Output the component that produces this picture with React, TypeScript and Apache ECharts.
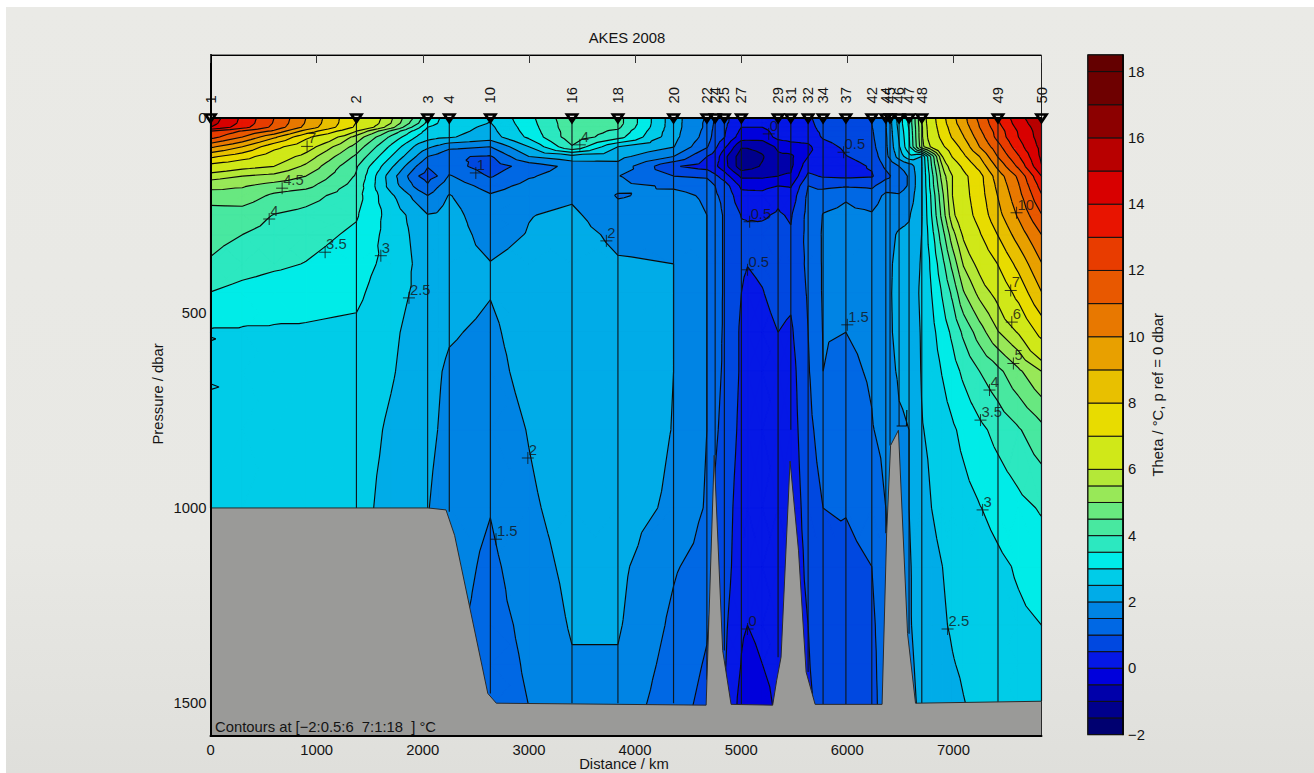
import React, { useEffect, useRef } from "react";
import * as echarts from "echarts";

const FONT = "'Liberation Sans', Arial, sans-serif";
const TEXT = "#141414";

const titleText = "AKES 2008";
const xAxisName = "Distance / km";
const yAxisName = "Pressure / dbar";
const barName = "Theta / °C, p ref = 0 dbar";
const contourNote = "Contours at [−2:0.5:6  7:1:18  ] °C";

// Contour levels and fill colours of the bands between them
const levels = [-2,-1.5,-1,-0.5,0,0.5,1,1.5,2,2.5,3,3.5,4,4.5,5,5.5,6,7,8,9,10,11,12,13,14,15,16,17,18,18.5];
const bandColors = ["#000070","#00008c","#0000aa","#0000dc","#0518e6","#0048e0","#0068e4","#0084e4","#00ace8","#00cce8","#00ece8","#2ce8c0","#48e8a0","#68e880","#98e858","#b4e838","#d0e818","#e8dc00","#e8c000","#e8a000","#e87800","#e85800","#e83c00","#e81400","#d80000","#b80000","#8c0000","#6e0000","#640000"];

// Theta, one row per pressure, one column per distance
const pressures = [0,15,25,35,50,75,100,125,150,175,200,250,300,375,450,550,650,800,1000,1150,1300,1400,1510];
const distances = [0,300,600,900,1375,1700,1960,2046,2140,2250,2637,3000,3406,3839,4363,4677,4755,4842,5002,5060,5200,5348,5468,5631,5772,5987,6231,6363,6488,6582,6700,6794,6897,6991,7095,7246,7415,7613,7830];
const thetaColumns = [
  [15.6,15.4,15.0,13.0,12.4,10.2,8.2,6.6,5.7,5.2,4.7,4.3,4.15,3.95,3.48,2.95,2.85,2.8,2.75,2.7,2.7,2.7,2.7],
  [13.8,13.7,13.4,11.9,11.0,9.0,7.4,6.2,5.5,5.05,4.8,4.25,4.0,3.75,3.3,2.95,2.88,2.8,2.75,2.7,2.7,2.7,2.7],
  [12,11.9,11.7,10.8,9.2,7.3,6.4,6.0,5.35,4.8,4.4,3.98,3.85,3.6,3.2,2.95,2.9,2.8,2.75,2.7,2.7,2.7,2.7],
  [10,9.9,9.7,8.6,7.2,6.3,5.8,5.4,5,4.65,4.2,3.85,3.7,3.48,3.15,2.95,2.9,2.8,2.75,2.7,2.7,2.7,2.7],
  [7,6.95,6.8,6,5.3,4.8,4.4,4.05,3.95,3.8,3.7,3.55,3.4,3.2,3.1,2.9,2.85,2.75,2.7,2.7,2.7,2.7,2.7],
  [5.6,5.5,5.2,4.4,3.9,3.4,3.0,2.6,2.25,2.3,2.6,2.8,2.8,2.85,2.7,2.6,2.55,2.42,2.3,2.3,2.3,2.3,2.3],
  [4.25,4.0,3.6,3.2,2.9,2.3,1.9,1.4,1.0,1.3,1.75,2.25,2.35,2.4,2.4,2.3,2.25,2.15,2.1,2.05,2.05,2.05,2.05],
  [3.6,3.3,3.0,2.8,2.7,2.1,1.5,1.02,0.85,1.05,1.5,2.02,2.2,2.25,2.3,2.2,2.15,2.1,2.02,2,2,2,2],
  [3.05,3.0,2.8,2.7,2.6,1.9,1.35,1.15,1.0,1.45,1.75,2.05,2.22,2.25,2.25,2.15,2.05,2,1.9,1.85,1.8,1.8,1.8],
  [2.8,2.75,2.7,2.65,2.55,1.65,1.05,1.2,1.55,1.8,2.03,2.2,2.25,2.25,2.2,2.05,1.92,1.85,1.75,1.7,1.6,1.55,1.5],
  [2.55,2.48,2.4,2.35,2.25,1.5,0.95,0.75,0.95,1.3,1.55,1.65,1.8,2.02,2.02,1.9,1.8,1.65,1.52,1.4,1.35,1.32,1.3],
  [3.35,3.3,3.25,3.2,3.1,2.5,2.0,1.2,1.45,1.65,1.8,1.98,2.03,2.2,2.3,2.25,2.2,2.03,1.9,1.75,1.6,1.55,1.5],
  [4.4,4.35,4.35,4.3,4.3,3.95,2.3,1.65,1.72,1.75,1.92,2.1,2.2,2.3,2.35,2.4,2.4,2.4,2.25,2.15,2.05,1.95,1.85],
  [4.2,4.2,4.1,3.9,3.7,2.5,2.15,1.85,1.52,1.6,1.47,1.65,1.88,2.05,2.2,2.35,2.4,2.4,2.25,2.12,2.05,1.95,1.8],
  [2.2,2.2,2.2,2.18,2.15,2.02,1.5,0.55,1.0,1.45,1.6,1.7,1.85,2.0,2.0,2.0,2.0,1.98,1.9,1.55,1.4,1.3,1.2],
  [1.45,1.4,1.4,1.35,1.3,1.05,0.5,0.3,0.9,1.35,1.45,1.5,1.5,1.5,1.5,1.5,1.5,1.5,1.45,1.3,1.05,0.95,0.85],
  [0.95,0.9,0.85,0.8,0.75,0.6,0.3,0.1,0.6,1.0,1.05,1.2,1.2,1.2,1.2,1.15,1.1,1.05,0.95,0.9,0.8,0.75,0.7],
  [0.6,0.6,0.58,0.55,0.52,0.1,-0.35,-0.3,0.25,0.75,0.9,0.95,0.95,0.95,0.95,0.95,0.95,0.9,0.8,0.75,0.6,0.55,0.55],
  [0.35,0.1,0,-0.1,-0.25,-0.95,-1.3,-1.3,-0.6,-0.1,0.15,0.48,0.6,0.56,0.5,0.42,0.42,0.35,0.2,0.15,0.06,-0.02,-0.2],
  [0.3,0.1,0,-0.12,-0.28,-0.95,-1.25,-1.2,-0.6,-0.12,0.15,0.47,0.56,0.51,0.4,0.3,0.25,0.22,0.15,0.1,0,-0.15,-0.3],
  [0.25,0.1,0,-0.15,-0.3,-0.85,-1.05,-0.95,-0.6,-0.15,0.15,0.45,0.62,0.58,0.48,0.35,0.25,0.25,0.2,0.2,0.12,0,-0.2],
  [0.35,0.3,0.25,0.2,0.15,-0.4,-0.6,-0.6,-0.5,0,0.4,0.55,0.65,0.7,0.65,0.5,0.3,0.25,0.2,0.2,0.2,0.15,0.1],
  [0.4,0.35,0.3,0.25,0.2,-0.2,-0.6,-0.6,-0.45,-0.05,0.2,0.45,0.55,0.65,0.6,0.42,0.3,0.25,0.2,0.2,0.2,0.2,0.2],
  [0.45,0.42,0.4,0.35,0.2,-0.1,0,0.3,0.6,1.0,1.1,1.15,1.15,1.1,1.05,1.0,0.95,0.85,0.7,0.6,0.5,0.45,0.35],
  [0.65,0.62,0.6,0.58,0.55,0.3,0.05,0.2,0.45,0.85,1.3,1.52,1.55,1.55,1.55,1.52,1.5,1.25,1.0,0.98,0.9,0.85,0.8],
  [0.85,0.85,0.82,0.8,0.75,0.6,0.48,0.3,0.4,0.95,1.45,1.6,1.65,1.65,1.6,1.5,1.4,1.25,1.02,0.9,0.85,0.82,0.8],
  [1,1,0.98,0.95,0.92,0.85,0.7,0.55,0.45,0.9,1.25,1.55,1.65,1.65,1.65,1.6,1.55,1.47,1.15,1,0.9,0.85,0.8],
  [1.45,1.45,1.45,1.45,1.42,1.4,1.35,1.1,0.85,1.3,1.6,1.75,1.85,1.9,1.92,1.9,1.85,1.65,1.5,1.4,1.3,1.3,1.3],
  [2.7,2.7,2.65,2.6,2.55,2.45,2.2,1.5,1.25,1.3,1.55,1.85,2.05,2.1,2.1,2.1,2.05,1.95,1.9,1.85,1.8,1.8,1.8],
  [3.6,3.6,3.55,3.5,3.45,3.4,2.8,1.7,1.55,1.55,1.7,1.95,2.1,2.15,2.15,2.12,2.08,2.0,2.0,1.95,1.95,1.9,1.85],
  [5.5,5.45,5.4,5.4,5.4,5.3,2.5,2.45,2.45,2.45,2.45,2.45,2.5,2.55,2.6,2.55,2.53,2.47,2.3,2.25,2.2,2.15,2.1],
  [6.6,6.55,6.5,6.45,6.4,6.1,4.15,4,3.8,3.75,3.6,3.5,3.3,3.1,3,2.85,2.77,2.6,2.5,2.4,2.33,2.27,2.2],
  [7.7,7.6,7.5,7.4,7.25,6.85,6,5.5,5.25,5.05,4.9,4.7,4.3,3.85,3.55,3.25,3.03,2.78,2.62,2.5,2.46,2.38,2.3],
  [8.7,8.6,8.4,8.3,8.1,7.5,7.05,6.4,6,6,6,5.85,5.3,4.65,4.1,3.6,3.3,2.93,2.72,2.58,2.54,2.48,2.38],
  [9.7,9.6,9.4,9.2,8.95,8.35,7.8,7.2,6.75,6.7,6.65,6.5,6.1,5.55,4.95,4.1,3.6,3.12,2.82,2.66,2.62,2.55,2.48],
  [11.3,11.1,11,10.8,10.5,10,9,8.3,7.65,7.6,7.55,7.35,6.9,6.2,5.65,4.75,4,3.38,2.98,2.77,2.72,2.65,2.6],
  [12.9,12.8,12.6,12.4,12.3,11.6,11,10.2,9.45,9.2,9,8.65,8,7,6.2,5.45,4.35,3.65,3.15,2.9,2.82,2.75,2.68],
  [14.7,14.5,14.3,14.1,14,13.6,12.9,12.2,11.2,10.9,10.65,10.15,9.45,8.3,7.3,6.05,4.9,3.95,3.35,3.05,2.92,2.82,2.78],
  [15.8,15.7,15.6,15.55,15.5,15.3,15.2,14.95,14,13.4,12.9,11.95,11,9.95,8.95,7.3,5.5,4.35,3.55,3.2,3.0,2.9,2.85],
];

// Sea floor
const floorDistance = [0,2050,2219,2300,2613,2693,4670,4746,4826,4905,5297,5335,5376,5461,5540,5612,5697,6328,6371,6408,6482,6568,6643,7830];
const floorPressure = [1000,1000,1005,1070,1475,1500,1505,865,1365,1503,1505,1441,1382,880,1108,1420,1503,1503,1065,840,801,1322,1500,1495];

// Stations: labelled number, distance, deepest pressure
const stationNames = ["1","2","3","4","10","16","18","20","22","24","25","27","29","31","32","34","37","42","44","45","46","47","48","49","50"];
const stationDistance = [0,1375,2046,2250,2637,3406,3839,4363,4677,4755,4842,5002,5348,5468,5631,5772,5987,6231,6363,6403,6488,6582,6702,7420,7830];
const stationDepth = [1000,1000,1000,1010,1475,1500,1500,1500,1440,865,1365,1503,1382,800,1420,1503,1503,1503,1065,840,790,1322,1500,1498,1495];

// Short contour kinks the gridded field cannot show
const kinkStation46: [number, number][] = [[6465,790],[6558,790],[6561,749]];
const kinkEdgeUpper: [number, number][] = [[0,562],[50,567],[0,572]];
const kinkEdgeLower: [number, number][] = [[0,682],[80,690],[0,697]];

// Contour labels: distance, pressure, text
const contourLabels: [number, number, string][] = [
  [910,74,"7"],[675,181,"4.5"],[553,260,"4"],[1080,345,"3.5"],[1605,354,"3"],[1870,462,"2.5"],
  [2500,142,"1"],[3480,70,"4"],[3730,316,"2"],[2990,872,"2"],[2690,1080,"1.5"],
  [5260,42,"0"],[5965,89,"0.5"],[5080,267,"0.5"],[5060,390,"0.5"],[6000,531,"1.5"],
  [5060,1310,"0"],[6945,1310,"2.5"],[7275,1005,"3"],[7255,775,"3.5"],[7340,698,"4"],
  [7565,630,"5"],[7550,524,"6"],[7540,443,"7"],[7595,244,"10"],
];

const xTicks = 1000;
const yTicks = 500;
const barTicks = 2;
const xMax = 7830;
const yMax = 1584;
const barMin = -2;
const barMax = 18.5;

type Pt = [number, number];
type VPt = [number, number, number];

function clipAbove(poly: VPt[], lvl: number, keepAbove: boolean): VPt[] {
  const out: VPt[] = [];
  const inside = (v: number) => (keepAbove ? v >= lvl : v < lvl);
  for (let i = 0; i < poly.length; i++) {
    const a = poly[i];
    const b = poly[(i + 1) % poly.length];
    const ia = inside(a[2]);
    const ib = inside(b[2]);
    if (ia) out.push(a);
    if (ia !== ib) {
      const t = (lvl - a[2]) / (b[2] - a[2]);
      out.push([a[0] + t * (b[0] - a[0]), a[1] + t * (b[1] - a[1]), lvl]);
    }
  }
  return out;
}

function buildTriangles(): VPt[][] {
  const tris: VPt[][] = [];
  const val = (c: number, r: number): VPt => [distances[c], pressures[r], thetaColumns[c][r] + 1e-4];
  for (let c = 0; c < distances.length - 1; c++) {
    for (let r = 0; r < pressures.length - 1; r++) {
      const a = val(c, r), b = val(c + 1, r), d = val(c, r + 1), e = val(c + 1, r + 1);
      const m: VPt = [(a[0] + b[0]) / 2, (a[1] + d[1]) / 2, (a[2] + b[2] + d[2] + e[2]) / 4];
      tris.push([a, b, m], [b, e, m], [e, d, m], [d, a, m]);
    }
  }
  return tris;
}

function buildContours() {
  const tris = buildTriangles();
  const bands: Pt[][][] = bandColors.map(() => []);
  const lines: Pt[][][] = levels.map(() => []);
  for (const t of tris) {
    for (let i = 0; i < bandColors.length; i++) {
      const lo = levels[i], hi = levels[i + 1];
      const mn = Math.min(t[0][2], t[1][2], t[2][2]);
      const mx = Math.max(t[0][2], t[1][2], t[2][2]);
      if (mx < lo || mn >= hi) continue;
      let p = clipAbove(t, lo, true);
      if (p.length) p = clipAbove(p, hi, false);
      if (p.length >= 3) bands[i].push(p.map((q) => [q[0], q[1]] as Pt));
    }
    for (let l = 0; l < levels.length - 1; l++) {
      const seg: Pt[] = [];
      const lvl = levels[l];
      for (let i = 0; i < 3; i++) {
        const a = t[i], b = t[(i + 1) % 3];
        if (a[2] >= lvl !== b[2] >= lvl) {
          const k = (lvl - a[2]) / (b[2] - a[2]);
          seg.push([a[0] + k * (b[0] - a[0]), a[1] + k * (b[1] - a[1])]);
        }
      }
      if (seg.length === 2) lines[l].push(seg);
    }
  }
  return { bands, lines };
}

function pathOf(polys: Pt[][], api: any, close: boolean): string {
  const parts: string[] = [];
  for (const poly of polys) {
    poly.forEach((q, i) => {
      const c = api.coord(q);
      parts.push((i === 0 ? "M" : "L") + c[0].toFixed(2) + " " + c[1].toFixed(2));
    });
    if (close) parts.push("Z");
  }
  return parts.join("");
}

function buildOption() {
  const { bands, lines } = buildContours();
  const textBase = { color: TEXT, fontFamily: FONT, fontSize: 14.8 };
  const noBits = { axisTick: { show: false }, axisLabel: { show: false }, splitLine: { show: false } };
  const blackLine = (w: number) => ({ show: true, onZero: false, lineStyle: { color: "#000", width: w } });
  const mod = (step: number) => (v: number) => (Math.abs(v / step - Math.round(v / step)) < 1e-6 ? String(v).replace("-", "−") : "");
  const gridBase = { show: true, backgroundColor: "transparent", outerBoundsMode: "none", containLabel: false };
  const kink = (name: string, pts: [number, number][]) => ({
    type: "line", name, xAxisIndex: 0, yAxisIndex: 0, z: 3, silent: true, showSymbol: false,
    data: pts, lineStyle: { color: "#0a0a0a", width: 1.15 },
  });
  const freeText = (text: string, x: number, y: number, align: string, rotation: number) => ({
    type: "text", x, y, rotation, z: 20,
    style: { text, fill: TEXT, font: "14.8px " + FONT, align, verticalAlign: "middle", textAlign: align, textVerticalAlign: "middle" },
  });

  return {
    animation: false,
    backgroundColor: "transparent",
    title: {
      text: titleText, left: 622, top: 25, textAlign: "center",
      textStyle: { ...textBase, fontWeight: "normal" },
    },
    grid: [
      { ...gridBase, left: 210.5, top: 117.5, width: 831, height: 618.5, borderColor: "#111", borderWidth: 1 },
      { ...gridBase, left: 210.5, top: 55, width: 831, height: 62.5, borderColor: "#222", borderWidth: 1 },
      { ...gridBase, left: 1088, top: 55, width: 35, height: 679.5, borderColor: "#000", borderWidth: 1.5 },
    ],
    xAxis: [
      {
        gridIndex: 0, type: "value", min: 0, max: xMax, interval: xTicks, position: "bottom", z: 10,
        axisLine: blackLine(2), axisTick: { show: false }, splitLine: { show: false },
        axisLabel: { ...textBase, margin: 6, formatter: mod(xTicks), showMaxLabel: false },
      },
      {
        gridIndex: 1, type: "value", min: 0, max: xMax, interval: xTicks, position: "top", z: 10,
        axisLine: blackLine(1), axisTick: { show: true, inside: true, length: 8, lineStyle: { color: "#333", width: 1 } },
        axisLabel: { show: false }, splitLine: { show: false },
      },
      { gridIndex: 0, type: "value", min: 0, max: xMax, position: "top", z: 10, axisLine: blackLine(2), ...noBits },
      { gridIndex: 2, type: "value", min: 0, max: 1, show: false },
    ],
    yAxis: [
      {
        gridIndex: 0, type: "value", inverse: true, min: 0, max: yMax, interval: yTicks, position: "left", z: 10,
        axisLine: blackLine(2), axisTick: { show: false }, splitLine: { show: false },
        axisLabel: { ...textBase, margin: 4, formatter: mod(yTicks), showMaxLabel: false },
      },
      { gridIndex: 1, type: "value", min: 0, max: 1, position: "left", z: 10, axisLine: blackLine(2), ...noBits },
      {
        gridIndex: 2, type: "value", min: barMin, max: barMax, interval: barTicks, position: "right", z: 10,
        axisLine: blackLine(1.5), axisTick: { show: false }, splitLine: { show: false },
        axisLabel: { ...textBase, margin: 5, formatter: mod(barTicks), showMaxLabel: false },
        name: barName, nameLocation: "middle", nameRotate: 90, nameGap: 27,
        nameTextStyle: textBase,
      },
    ],
    graphic: [
      freeText(yAxisName, 158, 394, "center", Math.PI / 2),
      freeText(xAxisName, 624, 764, "center", 0),
      freeText(contourNote, 215, 727, "left", 0),
    ],
    series: [
      {
        type: "custom", name: "bands", coordinateSystem: "cartesian2d", xAxisIndex: 0, yAxisIndex: 0, z: 1, silent: true,
        data: bandColors.map((_, i) => [0, levels[i]]), encode: { x: 0, y: 1 },
        renderItem: (p: any, api: any) => {
          const i = p.dataIndex;
          if (!bands[i].length) return null;
          return {
            type: "path", shape: { pathData: pathOf(bands[i], api, true) },
            style: { fill: bandColors[i], stroke: bandColors[i], lineWidth: 0.6 },
          };
        },
      },
      {
        type: "custom", name: "contours", coordinateSystem: "cartesian2d", xAxisIndex: 0, yAxisIndex: 0, z: 2, silent: true,
        data: levels.slice(0, -1).map((l) => [0, l]), encode: { x: 0, y: 1 },
        renderItem: (p: any, api: any) => {
          const i = p.dataIndex;
          if (!lines[i].length) return null;
          return {
            type: "path", shape: { pathData: pathOf(lines[i], api, false) },
            style: { fill: "none", stroke: "#0a0a0a", lineWidth: 1.15 },
          };
        },
      },
      {
        type: "custom", name: "stations", coordinateSystem: "cartesian2d", xAxisIndex: 0, yAxisIndex: 0, z: 3, silent: true,
        data: stationDistance.map((d, i) => [d, stationDepth[i]]), encode: { x: 0, y: 1 },
        renderItem: (_p: any, api: any) => {
          const a = api.coord([api.value(0), 0]);
          const b = api.coord([api.value(0), api.value(1)]);
          return { type: "line", shape: { x1: a[0], y1: a[1], x2: b[0], y2: b[1] }, style: { stroke: "#0c1820", lineWidth: 1.15 } };
        },
      },
      kink("kinkStation46", kinkStation46),
      kink("kinkEdgeUpper", kinkEdgeUpper),
      kink("kinkEdgeLower", kinkEdgeLower),
      {
        type: "custom", name: "floor", coordinateSystem: "cartesian2d", xAxisIndex: 0, yAxisIndex: 0, z: 4, silent: true,
        data: [[0, yMax]], encode: { x: 0, y: 1 },
        renderItem: (_p: any, api: any) => {
          const pts = floorDistance.map((d, i) => api.coord([d, floorPressure[i]]));
          pts.push(api.coord([xMax, yMax]), api.coord([0, yMax]));
          return { type: "polygon", shape: { points: pts }, style: { fill: "#9a9a98", stroke: "#2a2a2a", lineWidth: 1 } };
        },
      },
      {
        type: "custom", name: "stationMarks", coordinateSystem: "cartesian2d", xAxisIndex: 0, yAxisIndex: 0, z: 6, silent: true, clip: false,
        data: stationDistance.map((d, i) => [d, 0, i]), encode: { x: 0, y: 1 },
        renderItem: (p: any, api: any) => {
          const c = api.coord([api.value(0), 0]);
          const name = stationNames[p.dataIndex];
          return {
            type: "group",
            children: [
              {
                type: "polygon",
                shape: { points: [[c[0] - 5, c[1] - 3], [c[0] + 5, c[1] - 3], [c[0], c[1] + 4.5]] },
                style: { fill: "none", stroke: "#000", lineWidth: 2.7 },
              },
              {
                type: "text", x: c[0], y: c[1] - 14, rotation: Math.PI / 2,
                style: { text: name, fill: TEXT, font: "14.8px " + FONT, align: "left", verticalAlign: "middle", textAlign: "left", textVerticalAlign: "middle" },
              },
            ],
          };
        },
      },
      {
        type: "scatter", name: "contourLabels", xAxisIndex: 0, yAxisIndex: 0, z: 7, silent: true,
        symbol: "path://M6 0V12M0 6H12", symbolSize: 12,
        itemStyle: { color: "none", borderColor: "#111", borderWidth: 1 },
        data: contourLabels.map((c) => ({ value: [c[0], c[1]], name: c[2] })),
        label: {
          show: true, position: "inside", formatter: (p: any) => p.name, offset: [1, -8],
          align: "left", verticalAlign: "middle", ...textBase,
        },
      },
      {
        type: "custom", name: "colorbar", coordinateSystem: "cartesian2d", xAxisIndex: 3, yAxisIndex: 2, z: 5, silent: true,
        data: bandColors.map((_, i) => [0, levels[i], levels[i + 1]]), encode: { x: 0, y: 1 },
        renderItem: (p: any, api: any) => {
          const a = api.coord([0, api.value(1)]);
          const b = api.coord([1, api.value(2)]);
          return {
            type: "rect", shape: { x: a[0], y: b[1], width: b[0] - a[0], height: a[1] - b[1] },
            style: { fill: bandColors[p.dataIndex], stroke: "#111", lineWidth: 1 },
          };
        },
      },
    ],
  };
}

export default function App() {
  const ref = useRef<HTMLDivElement>(null);
  useEffect(() => {
    document.body.style.margin = "0";
    document.body.style.background = "#fff";
    const chart = echarts.init(ref.current!, undefined, { renderer: "svg" });
    chart.setOption(buildOption() as any);
    return () => chart.dispose();
  }, []);
  return (
    <div style={{ position: "relative", width: 1314, height: 773, overflow: "hidden", background: "#fff" }}>
      <div style={{ position: "absolute", left: 6, top: 7, right: 0, bottom: 0, background: "linear-gradient(#eaeae6 0%, #e8e8e4 70%, #dfdfdb 100%)" }} />
      <div ref={ref} style={{ position: "absolute", left: 0, top: 0, width: 1314, height: 773 }} />
    </div>
  );
}
